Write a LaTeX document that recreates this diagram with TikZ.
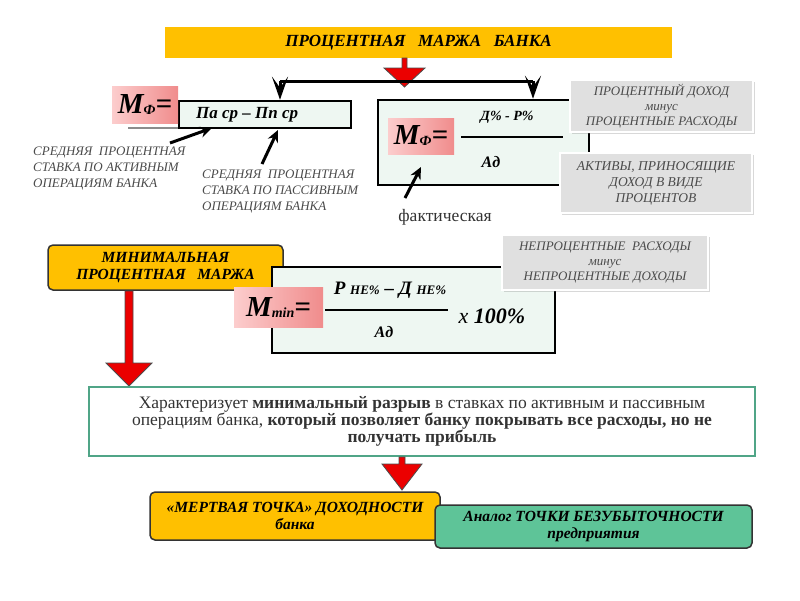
\documentclass[tikz,border=0pt]{standalone}
\usepackage{fontspec}
\setmainfont{Liberation Serif}
\usetikzlibrary{arrows.meta,shadows}
\definecolor{orangeF}{RGB}{255,192,0}
\definecolor{mintF}{RGB}{238,247,242}
\definecolor{grayF}{RGB}{224,224,224}
\definecolor{txtG}{RGB}{75,75,75}
\definecolor{tealB}{RGB}{80,165,135}
\definecolor{greenF}{RGB}{94,196,152}
\definecolor{redA}{RGB}{235,0,0}
\definecolor{pinkL}{RGB}{252,205,205}
\definecolor{pinkD}{RGB}{240,140,140}
\tikzset{
  x=1pt,y=-1pt,
  box/.style={draw=black,line width=2.5pt,fill=mintF,inner sep=0pt},
  pinkbox/.style={left color=pinkL,right color=pinkD,inner sep=0pt,font=\bfseries\itshape},
  graybox/.style={draw=white,line width=2.5pt,fill=grayF,inner sep=0pt,drop shadow={shadow xshift=1.5pt,shadow yshift=-1.5pt,opacity=0.3},
     font=\itshape\fontsize{13}{15}\selectfont,text=txtG,align=center},
  orangebox/.style={draw=black!80,line width=1.5pt,fill=orangeF,rounded corners=5pt,inner sep=0pt,
     font=\bfseries\itshape\fontsize{15.5}{17}\selectfont,align=center},
  label/.style={font=\itshape\fontsize{13}{16}\selectfont,text=txtG,align=left,inner sep=0pt},
  fracline/.style={line width=2.5pt},
  blockarrow/.style={fill=redA,draw=black!70,line width=0.8pt,line join=miter},
  blackarrow/.style={line width=3pt,-{Stealth[length=12pt,width=11pt]}},
  vtip/.style={line width=3pt,-{Stealth[length=23pt,width=16pt,inset=11pt]}},
}
\begin{document}
\begin{tikzpicture}
\useasboundingbox (0,0) rectangle (800,600);
\fill[white] (0,0) rectangle (800,600);

% title
\node[fill=orangeF,minimum width=507pt,minimum height=31pt,inner sep=0pt,
      font=\bfseries\itshape\fontsize{17}{19}\selectfont] (title) at (418.5,42.5)
      {ПРОЦЕНТНАЯ\ \ \ МАРЖА\ \ \ БАНКА};

% left formula
\draw[black!45,line width=1.5pt] (128,128) -- (178,128);
\node[box,minimum width=172pt,minimum height=27pt] (lf) at (265,114.5) {};
\node[anchor=west,inner sep=0pt,font=\bfseries\itshape\fontsize{17}{19}\selectfont] (lft) at (196,115) {Па ср -- Пп ср};
\node[pinkbox,minimum width=66pt,minimum height=37pt] (mf1) at (145,104.5)
   {\fontsize{29}{29}\selectfont M\raisebox{-1pt}{\fontsize{14}{14}\selectfont Ф}=};

% right formula box
\node[box,minimum width=211pt,minimum height=85pt] (rb) at (483.5,142.5) {};
\node[pinkbox,minimum width=66pt,minimum height=36pt] (mf2) at (421,136)
   {\fontsize{29}{29}\selectfont M\raisebox{-1pt}{\fontsize{14}{14}\selectfont Ф}=};
\coordinate (fl1) at (461,137);
\coordinate (fl2) at (563,137);
\draw[fracline] (fl1) -- (fl2);
\node[font=\bfseries\itshape\fontsize{14}{16}\selectfont] (num1) at (507,117) {Д\% - Р\%};
\node[font=\bfseries\itshape\fontsize{16}{18}\selectfont] (den1) at (491,162) {Ад};

% gray boxes
\node[graybox,minimum width=183pt,minimum height=52pt] (g1) at (661.5,106)
   {ПРОЦЕНТНЫЙ ДОХОД\\минус\\ПРОЦЕНТНЫЕ РАСХОДЫ};
\node[graybox,minimum width=192pt,minimum height=60pt,font=\itshape\fontsize{13.5}{16}\selectfont] (g2) at (656,183)
   {АКТИВЫ, ПРИНОСЯЩИЕ\\ДОХОД В ВИДЕ\\ПРОЦЕНТОВ};

% top distribution
\draw[blockarrow] (402,58) -- (407,58) -- (407,68) -- (425,68) -- (404.5,87) -- (384,68) -- (402,68) -- cycle;
\coordinate (hl) at (280,81);
\coordinate (hr) at (533,81);
\draw[line width=3pt] (hl) -- (hr);
\draw[vtip] (hl) -- (lf.north -| hl);
\draw[vtip] (hr) -- (rb.north -| hr);

% labels under left formula
\node[label,anchor=north west] (l1) at (33,147)
   {СРЕДНЯЯ\ \ ПРОЦЕНТНАЯ\\СТАВКА ПО АКТИВНЫМ\\ОПЕРАЦИЯМ БАНКА};
\node[label,anchor=north west] (l2) at (202,170)
   {СРЕДНЯЯ\ \ ПРОЦЕНТНАЯ\\СТАВКА ПО ПАССИВНЫМ\\ОПЕРАЦИЯМ БАНКА};
\coordinate (a1s) at (170,143);
\coordinate (a1e) at (212,128);
\draw[blackarrow] (a1s) -- (a1e);
\coordinate (a2s) at (262,164);
\coordinate (a2e) at (278,130);
\draw[blackarrow] (a2s) -- (a2e);

\node[font=\fontsize{17.5}{19}\selectfont,text=black!80] (fact) at (445,217) {фактическая};
\coordinate (a3s) at (405,198);
\draw[blackarrow] (a3s) -- (421,167);

% minimal margin
\node[orangebox,minimum width=235pt,minimum height=45pt] (mm) at (165.5,267.5)
   {МИНИМАЛЬНАЯ\\ПРОЦЕНТНАЯ\ \ \ МАРЖА};
\node[box,minimum width=283pt,minimum height=86pt] (fb) at (413.5,310) {};
\node[pinkbox,minimum width=89pt,minimum height=40pt] (mmin) at (278.5,307.5)
   {\fontsize{29}{29}\selectfont M\raisebox{-1pt}{\fontsize{14}{14}\selectfont min}=};
\draw[fracline] (325,310) -- (448,310);
\node[font=\bfseries\itshape\fontsize{19}{21}\selectfont] (num2) at (390,290)
   {Р {\fontsize{13}{15}\selectfont НЕ\%} -- Д {\fontsize{13}{15}\selectfont НЕ\%}};
\node[font=\bfseries\itshape\fontsize{16}{18}\selectfont] (den2) at (384,332) {Ад};
\node[font=\bfseries\itshape\fontsize{22}{24}\selectfont] (x100) at (492,316) {{\mdseries х} 100\%};
\node[graybox,minimum width=206pt,minimum height=55pt] (g3) at (605,262.5)
   {НЕПРОЦЕНТНЫЕ\ \ РАСХОДЫ\\минус\\НЕПРОЦЕНТНЫЕ ДОХОДЫ};

% red long arrow
\draw[blockarrow] (125,291) -- (133,291) -- (133,363) -- (152,363) -- (129,386) -- (106,363) -- (125,363) -- cycle;

% text box
\node[draw=tealB,line width=1.5pt,fill=white,minimum width=666pt,minimum height=69pt,
      font=\fontsize{17.5}{17}\selectfont,text=black!80,align=center] (tb) at (422,421.5)
 {Характеризует \textbf{минимальный разрыв} в ставках по активным и пассивным\\
  операциям банка, \textbf{который позволяет банку покрывать все расходы, но не}\\
  \textbf{получать прибыль}};

\draw[blockarrow] (399,457) -- (405,457) -- (405,464) -- (422,464) -- (402,490) -- (382,464) -- (399,464) -- cycle;

% bottom boxes
\node[orangebox,minimum width=290pt,minimum height=48pt] (dead) at (295,516)
   {«МЕРТВАЯ ТОЧКА» ДОХОДНОСТИ\\банка};
\node[orangebox,fill=greenF,minimum width=317pt,minimum height=43pt] (an) at (593.5,526.5)
   {Аналог ТОЧКИ БЕЗУБЫТОЧНОСТИ\\предприятия};
\end{tikzpicture}
\end{document}
